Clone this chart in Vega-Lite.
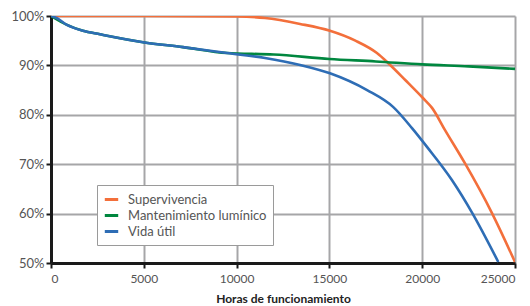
{
  "$schema": "https://vega.github.io/schema/vega-lite/v6.json",
  "width": 464,
  "height": 247,
  "autosize": {"type": "none"},
  "padding": {"left": 51, "top": 16, "right": 15, "bottom": 43},
  "config": {
    "view": {"stroke": null},
    "font": "Lato",
    "axis": {"labelFont": "Lato", "titleFont": "Lato"}
  },
  "data": {
    "values": [
      {"h": 0, "v": 1.0, "s": "Supervivencia"},
      {"h": 5000, "v": 1.0, "s": "Supervivencia"},
      {"h": 10000, "v": 0.999, "s": "Supervivencia"},
      {"h": 11530, "v": 0.996, "s": "Supervivencia"},
      {"h": 13420, "v": 0.984, "s": "Supervivencia"},
      {"h": 15030, "v": 0.970, "s": "Supervivencia"},
      {"h": 16400, "v": 0.950, "s": "Supervivencia"},
      {"h": 17560, "v": 0.925, "s": "Supervivencia"},
      {"h": 18160, "v": 0.905, "s": "Supervivencia"},
      {"h": 19100, "v": 0.870, "s": "Supervivencia"},
      {"h": 20040, "v": 0.834, "s": "Supervivencia"},
      {"h": 20530, "v": 0.814, "s": "Supervivencia"},
      {"h": 21230, "v": 0.769, "s": "Supervivencia"},
      {"h": 22300, "v": 0.702, "s": "Supervivencia"},
      {"h": 23760, "v": 0.601, "s": "Supervivencia"},
      {"h": 25000, "v": 0.502, "s": "Supervivencia"},
      {"h": 0, "v": 1.0, "s": "Mantenimiento lumínico"},
      {"h": 860, "v": 0.982, "s": "Mantenimiento lumínico"},
      {"h": 1720, "v": 0.970, "s": "Mantenimiento lumínico"},
      {"h": 2640, "v": 0.963, "s": "Mantenimiento lumínico"},
      {"h": 4960, "v": 0.947, "s": "Mantenimiento lumínico"},
      {"h": 7110, "v": 0.937, "s": "Mantenimiento lumínico"},
      {"h": 9480, "v": 0.925, "s": "Mantenimiento lumínico"},
      {"h": 12000, "v": 0.922, "s": "Mantenimiento lumínico"},
      {"h": 15000, "v": 0.913, "s": "Mantenimiento lumínico"},
      {"h": 17500, "v": 0.908, "s": "Mantenimiento lumínico"},
      {"h": 20000, "v": 0.902, "s": "Mantenimiento lumínico"},
      {"h": 22500, "v": 0.898, "s": "Mantenimiento lumínico"},
      {"h": 25000, "v": 0.893, "s": "Mantenimiento lumínico"},
      {"h": 0, "v": 1.0, "s": "Vida útil"},
      {"h": 300, "v": 0.996, "s": "Vida útil"},
      {"h": 860, "v": 0.982, "s": "Vida útil"},
      {"h": 1720, "v": 0.970, "s": "Vida útil"},
      {"h": 2640, "v": 0.963, "s": "Vida útil"},
      {"h": 4960, "v": 0.947, "s": "Vida útil"},
      {"h": 7110, "v": 0.937, "s": "Vida útil"},
      {"h": 9480, "v": 0.925, "s": "Vida útil"},
      {"h": 11530, "v": 0.915, "s": "Vida útil"},
      {"h": 13420, "v": 0.901, "s": "Vida útil"},
      {"h": 15030, "v": 0.884, "s": "Vida útil"},
      {"h": 17030, "v": 0.850, "s": "Vida útil"},
      {"h": 18430, "v": 0.816, "s": "Vida útil"},
      {"h": 19450, "v": 0.773, "s": "Vida útil"},
      {"h": 20300, "v": 0.733, "s": "Vida útil"},
      {"h": 21600, "v": 0.668, "s": "Vida útil"},
      {"h": 22700, "v": 0.601, "s": "Vida útil"},
      {"h": 24100, "v": 0.502, "s": "Vida útil"}
    ]
  },
  "mark": {"type": "line", "strokeWidth": 2.6, "interpolate": "monotone", "clip": true},
  "encoding": {
    "x": {
      "field": "h", "type": "quantitative",
      "scale": {"domain": [0, 25000], "nice": false},
      "axis": {
        "values": [0, 5000, 10000, 15000, 20000, 25000],
        "format": "d",
        "title": "Horas de funcionamiento",
        "titleFontWeight": "bold", "titleFontSize": 12, "titleColor": "#222",
        "titlePadding": 9,
        "labelFontSize": 12, "labelColor": "#555",
        "domainColor": "#1a1a1a", "domainWidth": 3,
        "tickColor": "#1a1a1a", "tickWidth": 2, "tickSize": 5,
        "gridColor": "#a6a6a8", "gridWidth": 2, "gridOpacity": 1,
        "labelPadding": 5
      }
    },
    "y": {
      "field": "v", "type": "quantitative",
      "scale": {"domain": [0.5, 1], "nice": false},
      "axis": {
        "values": [0.5, 0.6, 0.7, 0.8, 0.9, 1.0],
        "format": ".0%",
        "title": null,
        "labelFontSize": 13, "labelColor": "#555",
        "domainColor": "#1a1a1a", "domainWidth": 3,
        "tickColor": "#1a1a1a", "tickWidth": 2, "tickSize": 5,
        "gridColor": "#a6a6a8", "gridWidth": 2, "gridOpacity": 1,
        "labelPadding": 2
      }
    },
    "color": {
      "field": "s", "type": "nominal",
      "scale": {
        "domain": ["Supervivencia", "Mantenimiento lumínico", "Vida útil"],
        "range": ["#f36f3b", "#00873f", "#2e6db5"]
      },
      "legend": {
        "title": null,
        "orient": "none",
        "legendX": 46,
        "legendY": 169,
        "symbolType": "stroke",
        "symbolSize": 180,
        "symbolStrokeWidth": 3,
        "labelFontSize": 13,
        "labelColor": "#555",
        "labelOffset": 8,
        "rowPadding": 0,
        "padding": 6,
        "strokeColor": "#9a9a9a",
        "fillColor": "white",
        "labelLimit": 300
      }
    }
  }
}
